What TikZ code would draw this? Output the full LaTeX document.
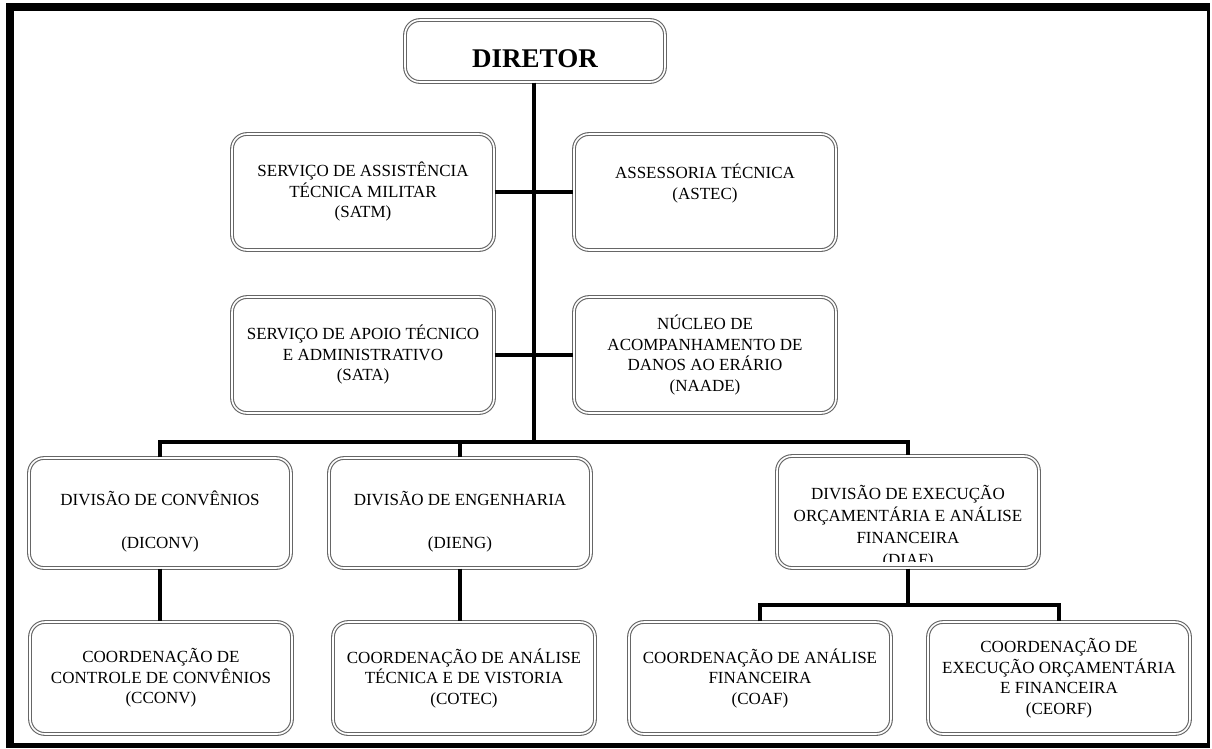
\documentclass[tikz,border=0pt]{standalone}
\usepackage{fontspec}
\setmainfont{Liberation Serif}
\usetikzlibrary{positioning}

\tikzset{
  caixa/.style={draw=black!60, double=white, double distance=1.6pt, line width=1.1pt,
    rounded corners=15pt, align=center, inner sep=0pt, minimum width=262pt,
    minimum height=116pt, font=\fontsize{17}{20.5}\selectfont},
  texto/.style={align=center, inner sep=0pt, font=\fontsize{17}{22}\selectfont},
  linha/.style={line width=4pt},
}

\begin{document}
\begin{tikzpicture}[x=1pt,y=-1pt]
\useasboundingbox (0,0) rectangle (1212,748);
\fill (6,3) rectangle (1210,11);
\fill (6,3) rectangle (14,748);
\fill (1207,3) rectangle (1210,748);
\fill (6,743) rectangle (1210,748);

\node[caixa, minimum width=260pt, minimum height=62pt, text height=32pt, text depth=0pt,
  font=\fontsize{27}{30}\selectfont\bfseries] (dir) at (535,51) {DIRETOR};
\node[caixa] (satm) at (363,192) {SERVIÇO DE ASSISTÊNCIA\\TÉCNICA MILITAR\\(SATM)};
\node[caixa] (astec) at (705,192) {ASSESSORIA TÉCNICA\\(ASTEC)\\\mbox{}};
\node[caixa] (sata) at (363,355) {SERVIÇO DE APOIO TÉCNICO\\E ADMINISTRATIVO\\(SATA)};
\node[caixa] (naade) at (705,355) {NÚCLEO DE\\ACOMPANHAMENTO DE\\DANOS AO ERÁRIO\\(NAADE)};
\node[caixa, minimum height=110pt] (diconv) at (160,513) {\rule{0pt}{32pt}DIVISÃO DE CONVÊNIOS\\[22pt](DICONV)};
\node[caixa, minimum height=110pt] (dieng) at (460,513) {\rule{0pt}{32pt}DIVISÃO DE ENGENHARIA\\[22pt](DIENG)};
\node[caixa, minimum height=112pt] (diaf) at (908,512) {};
\begin{scope}
\clip (780,457) rectangle (1036,561);
\node[texto, anchor=north] (diaftxt) at (908,485) {DIVISÃO DE EXECUÇÃO\\ORÇAMENTÁRIA E ANÁLISE\\FINANCEIRA\\(DIAF)};
\end{scope}
\node[caixa, minimum height=112pt] (cconv) at (161,678) {COORDENAÇÃO DE\\CONTROLE DE CONVÊNIOS\\(CCONV)};
\node[caixa, minimum height=112pt] (cotec) at (464,678) {COORDENAÇÃO DE ANÁLISE\\TÉCNICA E DE VISTORIA\\(COTEC)};
\node[caixa, minimum height=112pt] (coaf) at (760,678) {COORDENAÇÃO DE ANÁLISE\\FINANCEIRA\\(COAF)};
\node[caixa, minimum height=112pt] (ceorf) at (1059,678) {COORDENAÇÃO DE\\EXECUÇÃO ORÇAMENTÁRIA\\E FINANCEIRA\\(CEORF)};

\coordinate (b1) at (534,442);
\coordinate (b2) at (908,605);
\draw[linha] (dir.south -| b1) -- (b1);
\draw[linha] (satm) -- (astec);
\draw[linha] (sata) -- (naade);
\draw[linha] (diconv.north) |- (diaf.north |- b1) -- (diaf.north);
\draw[linha] (dieng.north) -- (dieng.north |- b1);
\draw[linha] (diconv.south) -- (diconv.south |- cconv.north);
\draw[linha] (dieng.south) -- (dieng.south |- cotec.north);
\draw[linha] (diaf.south) -- (b2);
\draw[linha] (coaf.north) |- (ceorf.north |- b2) -- (ceorf.north);
\end{tikzpicture}
\end{document}
